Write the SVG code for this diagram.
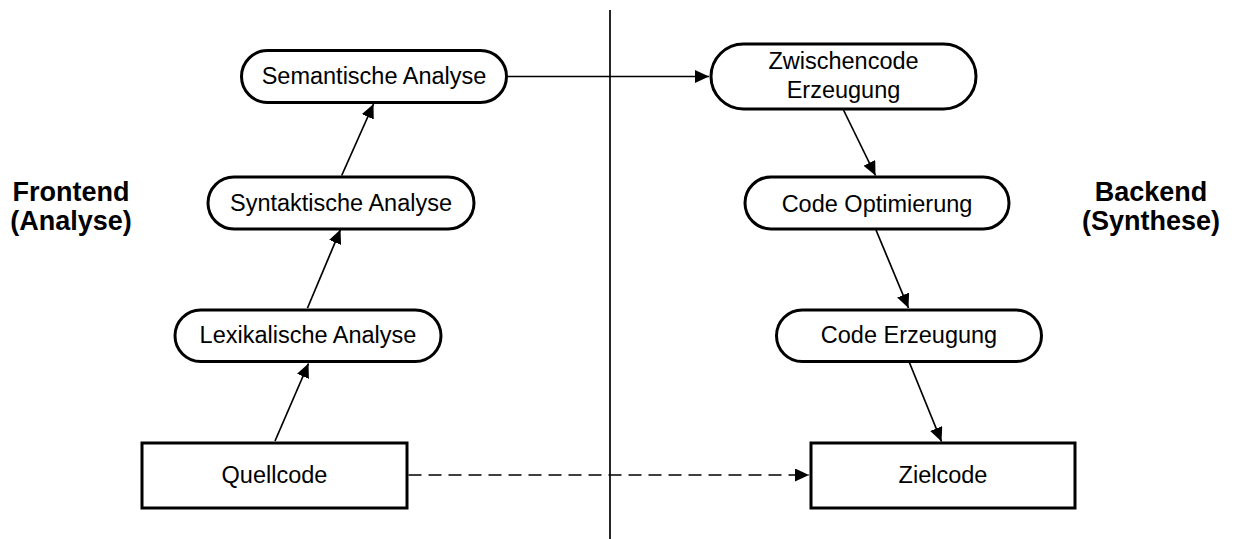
<svg xmlns="http://www.w3.org/2000/svg" width="1236" height="539" viewBox="0 0 1236 539">
<style>
.box{fill:#fff;stroke:#000;stroke-width:3}
.t{font-family:"Liberation Sans",Arial,sans-serif;font-size:23.5px;text-anchor:middle;fill:#000}
.side{font-family:"Liberation Sans",Arial,sans-serif;font-size:27px;font-weight:bold;text-anchor:middle;fill:#000}
.c{stroke:#000;stroke-width:1.7;fill:none}
.dash{stroke-dasharray:13 7}
</style>
<defs>
<marker id="arr" markerUnits="userSpaceOnUse" markerWidth="15" markerHeight="14" refX="14" refY="6.5" orient="auto">
<path d="M0,0 L14,6.5 L0,13 z" fill="#000"/>
</marker>
</defs>
<g id="divider"><line x1="610" y1="10" x2="610" y2="539" stroke="#000" stroke-width="1.7"/></g>
<g id="connectors">
<line class="c" x1="275" y1="441" x2="308.5" y2="363.5" marker-end="url(#arr)"/>
<line class="c" x1="307.5" y1="308" x2="340.5" y2="229.5" marker-end="url(#arr)"/>
<line class="c" x1="341.7" y1="175.5" x2="373.5" y2="104" marker-end="url(#arr)"/>
<line class="c" x1="508" y1="76.5" x2="709" y2="76.5" marker-end="url(#arr)"/>
<line class="c" x1="843.5" y1="110" x2="875.5" y2="175.5" marker-end="url(#arr)"/>
<line class="c" x1="876" y1="230" x2="908.5" y2="308" marker-end="url(#arr)"/>
<line class="c" x1="909.5" y1="362.7" x2="941.5" y2="441.5" marker-end="url(#arr)"/>
<line class="c dash" x1="408.5" y1="475" x2="809" y2="475" marker-end="url(#arr)"/>
</g>
<g id="frontend"><text class="side" x="71" y="201">Frontend</text><text class="side" x="71" y="230">(Analyse)</text></g>
<g id="backend"><text class="side" x="1151" y="201">Backend</text><text class="side" x="1151" y="230">(Synthese)</text></g>
<g id="semantische"><rect class="box" x="241.5" y="50.5" width="265" height="52" rx="26"/><text class="t" x="374" y="84">Semantische Analyse</text></g>
<g id="syntaktische"><rect class="box" x="208" y="177" width="266" height="52" rx="26"/><text class="t" x="341" y="211">Syntaktische Analyse</text></g>
<g id="lexikalische"><rect class="box" x="175" y="310" width="266" height="51.5" rx="25.75"/><text class="t" x="308" y="343">Lexikalische Analyse</text></g>
<g id="quellcode"><rect class="box" x="142" y="443" width="265" height="65"/><text class="t" x="274.5" y="483">Quellcode</text></g>
<g id="zwischencode"><rect class="box" x="711" y="44" width="265" height="65" rx="32.5"/><text class="t" x="843.5" y="69">Zwischencode</text><text class="t" x="843.5" y="98">Erzeugung</text></g>
<g id="optimierung"><rect class="box" x="745" y="177" width="264" height="52" rx="26"/><text class="t" x="877" y="212">Code Optimierung</text></g>
<g id="erzeugung"><rect class="box" x="776.5" y="310" width="265" height="51.5" rx="25.75"/><text class="t" x="909" y="343">Code Erzeugung</text></g>
<g id="zielcode"><rect class="box" x="811" y="443" width="264" height="65"/><text class="t" x="943" y="483">Zielcode</text></g>
</svg>
